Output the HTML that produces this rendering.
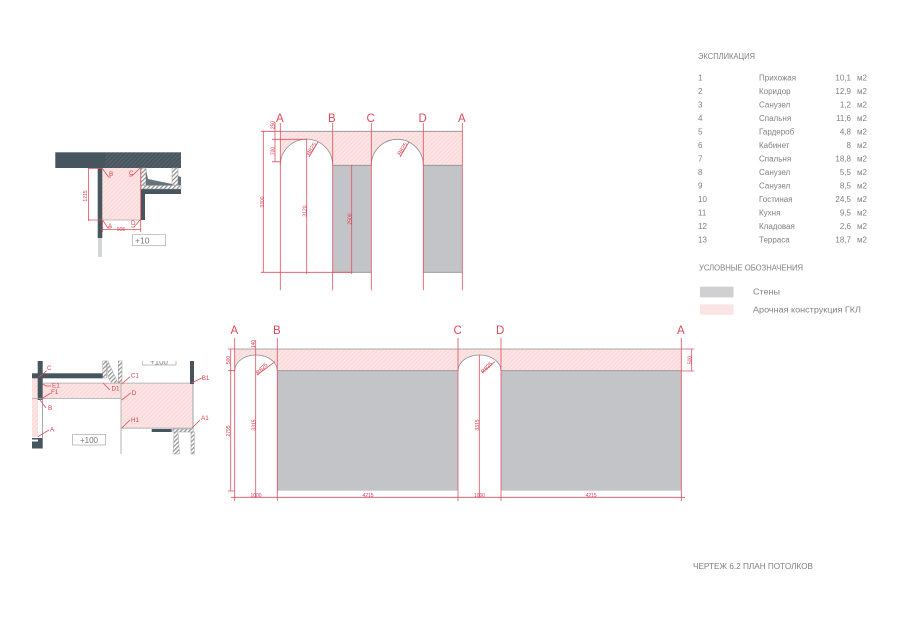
<!DOCTYPE html>
<html lang="ru"><head><meta charset="utf-8"><style>
html,body{margin:0;padding:0;background:#fff;width:900px;height:636px;overflow:hidden}
svg{display:block}
text{font-family:"Liberation Sans","DejaVu Sans",sans-serif}
.r{stroke:#e0505f;stroke-width:.8;fill:none}
.g{stroke:#8e8e90;stroke-width:.8;fill:none}
.lab{fill:#e04a5a;font-size:11.5px}
.d{fill:#d94050;font-size:5px}
.rr{fill:#d94050;font-size:5.8px}
.s{fill:#d94050;font-size:6.3px}
.t{fill:#808080;font-size:8px}
.dk{fill:#47565e}
.hb{fill:url(#hw);stroke:#999;stroke-width:.5}
</style></head><body>
<svg width="900" height="636" viewBox="0 0 900 636" xmlns="http://www.w3.org/2000/svg">
<defs>
<pattern id="hp" width="3" height="3" patternUnits="userSpaceOnUse" patternTransform="rotate(-45)"><rect width="3" height="3" fill="#fbdcdc"/><rect width="3" height="1" fill="#fde8e8"/></pattern>
<pattern id="hw" width="3" height="3" patternUnits="userSpaceOnUse" patternTransform="rotate(-45)"><rect width="3" height="3" fill="#fff"/><rect width="3" height="1.2" fill="#909090"/></pattern>
<pattern id="hd" width="3" height="3" patternUnits="userSpaceOnUse" patternTransform="rotate(-45)"><rect width="3" height="3" fill="#47565e"/><rect width="3" height=".7" fill="#5f6c73"/></pattern>
<clipPath id="cp"><rect x="130" y="361" width="60" height="10"/></clipPath>
</defs>

<!-- Plan 1 -->
<rect x="55.3" y="152.3" width="50" height="15.7" class="dk"/>
<rect x="105" y="152.3" width="76" height="15.7" fill="url(#hd)"/>
<rect x="102.3" y="168" width="38.4" height="52" fill="url(#hp)"/>
<rect x="97.7" y="168" width="4.6" height="70" class="dk"/>
<rect x="98" y="238" width="4" height="19" fill="#d4d6d8"/>
<rect x="140.7" y="189" width="40.3" height="5" class="dk"/>
<rect x="140.7" y="194" width="4.3" height="26" class="dk"/>
<rect x="141" y="168" width="5" height="17" class="hb"/>
<rect x="172" y="168" width="6" height="17" class="hb"/>
<path d="M146 170 L148 179 L172 184 V185.5 L146 185.5Z" fill="#66737a"/>
<path d="M178 176 L181 177 V185 H178Z" fill="#66737a"/>
<rect x="141" y="185.5" width="40" height="3.5" class="hb"/>
<line x1="102" y1="220" x2="141" y2="220" stroke="#aaa" stroke-width=".8"/>
<g class="r">
<path d="M88 168.5H102M88 220H102M88.5 168V221M103 229.5H141M102.5 220V232M140.700 168V232"/>
<path d="M102 168L108.500 177H111M140 168L132 176H129M102.500 220L108 228H111M140 220L134 227H131"/>
</g>
<text class="s" x="109" y="176">B</text><text class="s" x="129" y="175">C</text><text class="s" x="108" y="228">A</text><text class="s" x="131" y="225">D</text>
<text class="d" transform="translate(87 196) rotate(-90)" text-anchor="middle">1215</text>
<text class="d" x="121" y="231" text-anchor="middle">905</text>
<rect x="132.300" y="234.700" width="33.400" height="11" fill="#fff" stroke="#a9a9a9" stroke-width=".7"/>
<text x="135" y="243.500" fill="#777" font-size="8.500">+10</text>

<!-- Elevation 1 -->
<path d="M280.300 131.300H462.300V165.300H423.300A26 26 0 0 0 371.300 165.300H332.700A26.200 26.200 0 0 0 280.300 165.300Z" fill="url(#hp)"/>
<rect x="332.700" y="165.300" width="38.600" height="107" fill="#c3c4c7"/>
<rect x="423.300" y="165.300" width="39" height="107" fill="#c3c4c7"/>
<g class="g">
<path d="M280.300 131.300H462.300M332.700 165.300H371.300M423.300 165.300H462.300M332.700 272.300H371.300M423.300 272.300H462.300"/>
<path d="M280.300 165.300A26.200 26.200 0 0 1 332.700 165.300M371.300 165.300A26 26 0 0 1 423.300 165.300"/>
</g>
<g class="r">
<path d="M280.300 123V290.300M332.700 123V290.300M371.300 123V290.300M423.300 123V290.300M462.300 123V290.300"/>
<path d="M263.300 131V272M261 131.300H281M261 272.300H352M275 122V162M272 139.300H307M272 161.800H281M306.700 139V274M351.700 165V274"/>
<path d="M309 157L318 142M400 157L409 142"/>
</g>
<text class="lab" x="276" y="122">A</text><text class="lab" x="328" y="122">B</text><text class="lab" x="366.500" y="122">C</text><text class="lab" x="418.500" y="122">D</text><text class="lab" x="458" y="122">A</text>
<text class="d" transform="translate(274.500 125) rotate(-90)" text-anchor="middle">250</text>
<text class="d" transform="translate(274.500 151) rotate(-90)" text-anchor="middle">700</text>
<text class="d" transform="translate(264 202) rotate(-90)" text-anchor="middle">3300</text>
<text class="d" transform="translate(306.500 211) rotate(-90)" text-anchor="middle">3120</text>
<text class="d" transform="translate(351.500 219) rotate(-90)" text-anchor="middle">2500</text>
<text class="rr" transform="translate(313 150) rotate(-58)" text-anchor="middle">R825</text>
<text class="rr" transform="translate(404 150) rotate(-58)" text-anchor="middle">R825</text>

<!-- Plan 2 -->
<rect x="32" y="378" width="6" height="59" fill="url(#hp)"/>
<rect x="43" y="383" width="78" height="15" fill="url(#hp)"/>
<rect x="121" y="383" width="71.700" height="45" fill="url(#hp)"/>
<rect x="32" y="373.300" width="70.700" height="5" class="dk"/>
<rect x="37.700" y="361" width="5" height="39" class="dk"/>
<rect x="32" y="438" width="10.700" height="10.500" class="dk"/>
<rect x="32" y="439.500" width="6" height="2" fill="#fff"/>
<rect x="42" y="400" width="1" height="38" fill="#aaa"/>
<rect x="32" y="398" width="89" height=".8" fill="#aaa"/>
<rect x="120.500" y="383" width="1" height="71" fill="#b5b5b5"/>
<rect x="43" y="382.700" width="150" height=".8" fill="#aaa"/>
<rect x="121" y="427.700" width="72" height=".9" fill="#aaa"/>
<rect x="192" y="383" width="1.800" height="46" fill="#c5c5cb"/>
<rect x="190" y="361" width="4" height="23" class="dk"/>
<rect x="151.700" y="429" width="20" height="3" class="dk"/>
<rect x="102.700" y="361" width="4" height="17" class="hb"/>
<rect x="118.300" y="361" width="3.700" height="22" class="hb"/>
<path d="M106.700 361L108 378L112 383H118L108 361Z" fill="url(#hw)" stroke="#999" stroke-width=".4"/>
<rect x="172.700" y="429" width="20.600" height="3" class="hb"/>
<rect x="191" y="432" width="3.300" height="22" class="hb"/>
<path d="M174 432H178L179.500 454H173Z" fill="url(#hw)" stroke="#999" stroke-width=".4"/>
<path d="M142.300 361V365H176V361" fill="none" stroke="#aaa" stroke-width=".7"/>
<text x="159" y="364.500" text-anchor="middle" fill="#888" font-size="8" clip-path="url(#cp)">+100</text>
<rect x="72.500" y="434.500" width="33" height="10.500" fill="#fff" stroke="#a9a9a9" stroke-width=".7"/>
<text x="89" y="443" text-anchor="middle" fill="#777" font-size="8">+100</text>
<g class="r">
<path d="M39 377L46.700 370.700M42.700 384L46 386H51M40 400L50.700 393M40 400L46 408M38 436.700L49 430M103 383L110 390M121.700 384L130 376.700M121.700 400L130.700 393M121.700 428L130 420M191.700 383L201.700 378M192 428L200 420"/>
</g>
<g class="s">
<text x="47" y="370">C</text><text x="52" y="387.500">E1</text><text x="51" y="394">F1</text><text x="48" y="410">B</text><text x="50" y="431.500">A</text><text x="111.500" y="390.500">D1</text><text x="131" y="377.500">C1</text><text x="131.700" y="395">D</text><text x="131" y="422">H1</text><text x="201.700" y="380">B1</text><text x="201" y="420">A1</text>
</g>

<!-- Elevation 2 -->
<path d="M234.700 349H681.300V370.700H501A21.500 15.700 0 0 0 458 370.700H277.300A21.300 15.700 0 0 0 234.700 370.700Z" fill="url(#hp)"/>
<rect x="277.300" y="370.700" width="180.700" height="120" fill="#c3c4c7"/>
<rect x="501" y="370.700" width="180.300" height="120" fill="#c3c4c7"/>
<g class="g">
<path d="M234.700 349H681.300M277.300 370.700H458M501 370.700H681.300"/>
<path d="M234.700 370.700A21.300 15.700 0 0 1 277.300 370.700M458 370.700A21.500 15.700 0 0 1 501 370.700"/>
</g>
<g class="r">
<path d="M234.700 338V501M277.300 338V501M458 338V501M501 338V501M681.300 338V501"/>
<path d="M230.700 349V491M228 349H235M228 370.700H235M228 491H235"/>
<path d="M255.700 340V498M479.300 355V498M691.700 349V371M681.300 349H694M681.300 371H694"/>
<path d="M231 497.300H685"/>
<path d="M257 375L275 361.700M482 372.700L495 361.700"/>
</g>
<text class="lab" x="230.500" y="334">A</text><text class="lab" x="273" y="334">B</text><text class="lab" x="453.500" y="334">C</text><text class="lab" x="496" y="334">D</text><text class="lab" x="677" y="334">A</text>
<text class="d" transform="translate(230 360) rotate(-90)" text-anchor="middle">500</text>
<text class="d" transform="translate(255 344) rotate(-90)" text-anchor="middle">140</text>
<text class="d" transform="translate(230 431) rotate(-90)" text-anchor="middle">2795</text>
<text class="d" transform="translate(255.500 425) rotate(-90)" text-anchor="middle">3315</text>
<text class="d" transform="translate(479 425) rotate(-90)" text-anchor="middle">3315</text>
<text class="d" transform="translate(691.500 360) rotate(-90)" text-anchor="middle">500</text>
<text class="rr" transform="translate(263 370) rotate(-45)" text-anchor="middle">R825</text>
<text class="rr" transform="translate(488 369) rotate(-45)" text-anchor="middle">R825</text>
<text class="d" x="256" y="497" text-anchor="middle">1000</text>
<text class="d" x="368" y="497" text-anchor="middle">4215</text>
<text class="d" x="479.500" y="497" text-anchor="middle">1000</text>
<text class="d" x="591" y="497" text-anchor="middle">4215</text>

<!-- Explication -->
<text class="t" x="698" y="59" textLength="57" lengthAdjust="spacingAndGlyphs">ЭКСПЛИКАЦИЯ</text>
<g class="t">
<text x="698" y="80.500">1</text><text x="759" y="80.500">Прихожая</text><text x="851" y="80.500" text-anchor="end">10,1</text><text x="857" y="80.500">м2</text>
<text x="698" y="94">2</text><text x="759" y="94">Коридор</text><text x="851" y="94" text-anchor="end">12,9</text><text x="857" y="94">м2</text>
<text x="698" y="107.500">3</text><text x="759" y="107.500">Санузел</text><text x="851" y="107.500" text-anchor="end">1,2</text><text x="857" y="107.500">м2</text>
<text x="698" y="121">4</text><text x="759" y="121">Спальня</text><text x="851" y="121" text-anchor="end">11,6</text><text x="857" y="121">м2</text>
<text x="698" y="134.500">5</text><text x="759" y="134.500">Гардероб</text><text x="851" y="134.500" text-anchor="end">4,8</text><text x="857" y="134.500">м2</text>
<text x="698" y="148">6</text><text x="759" y="148">Кабинет</text><text x="851" y="148" text-anchor="end">8</text><text x="857" y="148">м2</text>
<text x="698" y="161.500">7</text><text x="759" y="161.500">Спальня</text><text x="851" y="161.500" text-anchor="end">18,8</text><text x="857" y="161.500">м2</text>
<text x="698" y="175">8</text><text x="759" y="175">Санузел</text><text x="851" y="175" text-anchor="end">5,5</text><text x="857" y="175">м2</text>
<text x="698" y="188.500">9</text><text x="759" y="188.500">Санузел</text><text x="851" y="188.500" text-anchor="end">8,5</text><text x="857" y="188.500">м2</text>
<text x="698" y="202">10</text><text x="759" y="202">Гостиная</text><text x="851" y="202" text-anchor="end">24,5</text><text x="857" y="202">м2</text>
<text x="698" y="215.500">11</text><text x="759" y="215.500">Кухня</text><text x="851" y="215.500" text-anchor="end">9,5</text><text x="857" y="215.500">м2</text>
<text x="698" y="229">12</text><text x="759" y="229">Кладовая</text><text x="851" y="229" text-anchor="end">2,6</text><text x="857" y="229">м2</text>
<text x="698" y="242.500">13</text><text x="759" y="242.500">Терраса</text><text x="851" y="242.500" text-anchor="end">18,7</text><text x="857" y="242.500">м2</text>
</g>
<text class="t" x="699" y="270.500" textLength="104" lengthAdjust="spacingAndGlyphs">УСЛОВНЫЕ  ОБОЗНАЧЕНИЯ</text>
<rect x="700" y="286.700" width="33.500" height="10.700" fill="#d0d0d2"/>
<rect x="700" y="304.300" width="33.500" height="10.500" fill="#fbe4e4"/>
<text class="t" x="753" y="294.500" textLength="27" lengthAdjust="spacingAndGlyphs">Стены</text>
<text class="t" x="753" y="312.500" textLength="108" lengthAdjust="spacingAndGlyphs">Арочная  конструкция  ГКЛ</text>
<text class="t" x="693" y="569" textLength="120" lengthAdjust="spacingAndGlyphs">ЧЕРТЕЖ 6.2  ПЛАН  ПОТОЛКОВ</text>
</svg>
</body></html>
